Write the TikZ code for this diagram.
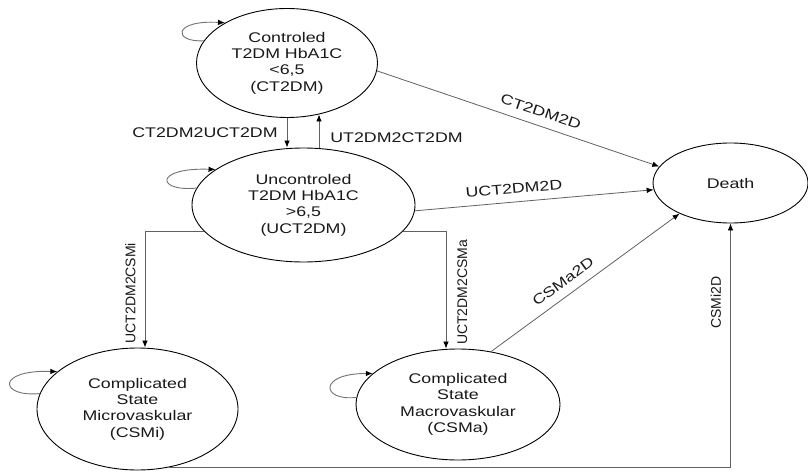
\documentclass[tikz,border=0pt]{standalone}
\usepackage{fontspec}
\setmainfont{Liberation Sans}[FakeStretch=1.27]
\newfontfamily\vfont{Liberation Sans}
\usetikzlibrary{shapes.geometric,arrows.meta,calc}
\begin{document}
\begin{tikzpicture}[x=1pt,y=1pt,
  state/.style={ellipse, draw=black, line width=0.9pt, inner sep=0pt, align=center,
    font=\fontsize{14}{16.3}\selectfont, text=black!90},
  edge/.style={draw=black!62, line width=0.8pt, -{Latex[length=7pt,width=5.5pt,color=black]}},
  selfloop/.style={draw=black!55, line width=0.9pt, -{Latex[length=7pt,width=5.5pt,color=black]}},
  lbl/.style={font=\fontsize{14}{16}\selectfont, text=black!90, inner sep=0pt},
  vlbl/.style={font=\vfont\fontsize{14}{16}\selectfont, text=black!90, inner sep=0pt, rotate=90}]
\useasboundingbox (0,0) rectangle (808,472);
\fill[white] (0,0) rectangle (808,472);

% states
\node[state, minimum width=181pt, minimum height=109pt] (ct) at (287,409)
  {Controled\\T2DM HbA1C\\<6,5\\(CT2DM)};
\node[state, minimum width=223pt, minimum height=114pt] (uct) at (303.5,267)
  {Uncontroled\\T2DM HbA1C\\>6,5\\(UCT2DM)};
\node[state, minimum width=155pt, minimum height=80pt] (death) at (730.5,289) {Death};
\node[state, minimum width=201pt, minimum height=122pt] (csmi) at (137.5,63)
  {Complicated\\State\\Microvaskular\\(CSMi)};
\node[state, minimum width=204pt, minimum height=111pt] (csma) at (458,67.5)
  {Complicated\\State\\Macrovaskular\\(CSMa)};

% self loops
\draw[selfloop] (ct.165) .. controls +(-31,-2) and +(-53,3) .. (ct.147);
\draw[selfloop] (uct.171) .. controls +(-40,-4) and +(-62,2) .. (uct.158);
\draw[selfloop] (csmi.171) .. controls +(-40,-4) and +(-62,2) .. (csmi.155);
\draw[selfloop] (csma.176.3) .. controls +(-35,-4) and +(-55,0) .. (csma.160);

% transitions
\draw[edge] (ct.south) -- node[lbl, midway, left=9pt] {CT2DM2UCT2DM} (ct.south |- uct.north);
\draw[edge] ([xshift=15.5pt]uct.north) -- node[lbl, pos=0.29, right=11pt] {UT2DM2CT2DM}
  ([xshift=32pt,yshift=3.5pt]ct.south);
\draw[edge] (ct.-5) -- node[lbl, sloped, pos=0.565, above=8.5pt] {CT2DM2D} (death.167);
\draw[edge] (uct.-3.1) -- node[lbl, sloped, pos=0.42, above=8pt] {UCT2DM2D} (death.185);
\draw[edge] (uct.195.4) -| node[xshift=-9pt, vlbl, pos=0.765, anchor=south] {UCT2DM2CSMi}
  ([xshift=7.5pt]csmi.north);
\draw[edge] (uct.-15.4) -| node[xshift=11pt, vlbl, pos=0.76, anchor=north] {UCT2DM2CSMa}
  ([xshift=-12pt]csma.north);
\draw[edge] (csma.58.3) -- node[lbl, sloped, pos=0.425, above=8.5pt] {CSMa2D} (death.211.7);
\draw[edge] (csmi.-62) -| node[xshift=-9pt, vlbl, pos=0.838, anchor=south] {CSMi2D} (death.south);
\end{tikzpicture}
\end{document}
